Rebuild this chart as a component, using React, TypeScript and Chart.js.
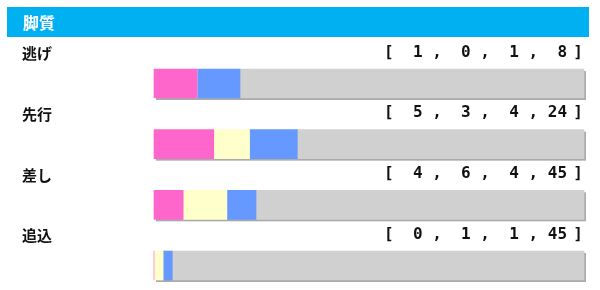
import React, { useEffect, useRef } from "react";
import { Chart, registerables } from "chart.js";
Chart.register(...registerables);

const title = "脚質";
const categories = ["逃げ", "先行", "差し", "追込"];
const firstPlace = [1, 5, 4, 0];
const secondPlace = [0, 3, 6, 1];
const thirdPlace = [1, 4, 4, 1];
const unplaced = [8, 24, 45, 45];
const seriesNames = ["1着", "2着", "3着", "着外"];
const seriesColors = ["#ff66cc", "#ffffcc", "#6699ff", "#d0d0d0"];

const series = [firstPlace, secondPlace, thirdPlace, unplaced];
const totals = categories.map((_, i) => series.reduce((s, arr) => s + arr[i], 0));

const decor = {
  id: "decor",
  beforeDraw(chart: any) {
    const ctx = chart.ctx;
    ctx.save();
    ctx.fillStyle = "#00b0f0";
    ctx.fillRect(7, 7, 582, 30);
    ctx.fillStyle = "#ffffff";
    ctx.font = "bold 16px 'Noto Sans CJK JP'";
    ctx.textBaseline = "middle";
    ctx.textAlign = "left";
    ctx.fillText(title, 23, 22.5);
    ctx.restore();
  },
  beforeDatasetsDraw(chart: any) {
    const ctx = chart.ctx;
    const first = chart.getDatasetMeta(0).data;
    const last = chart.getDatasetMeta(series.length - 1).data;
    ctx.save();
    ctx.fillStyle = "#aaaaaa";
    categories.forEach((_, i) => {
      const a = first[i];
      const b = last[i];
      const left = Math.min(a.base, a.x);
      const right = b.x;
      ctx.fillRect(left + 2, a.y - a.height / 2 + 2, right - left, a.height);
    });
    ctx.restore();
  },
  afterDatasetsDraw(chart: any) {
    const ctx = chart.ctx;
    const y = chart.scales.y;
    ctx.save();
    ctx.fillStyle = "#111111";
    ctx.textBaseline = "middle";
    categories.forEach((cat, i) => {
      const cy = y.getPixelForValue(i) - 31;
      ctx.font = "bold 15px 'Noto Sans CJK JP'";
      ctx.textAlign = "left";
      ctx.fillText(cat, 22, cy + 1);
      ctx.font = "bold 16px 'DejaVu Sans Mono'";
      const txt = "[" + series.map((arr) => " " + String(arr[i]).padStart(2, " ")).join(" ,");
      ctx.fillText(txt, 384, cy);
      ctx.textAlign = "center";
      ctx.fillText("]", 578, cy);
    });
    ctx.restore();
  },
};

export default function App() {
  const ref = useRef<HTMLCanvasElement | null>(null);
  useEffect(() => {
    if (!ref.current) return;
    const chart = new Chart(ref.current, {
      type: "bar",
      data: {
        labels: categories,
        datasets: series.map((arr, k) => ({
          label: seriesNames[k],
          data: arr.map((v, i) => (v / totals[i]) * 100),
          backgroundColor: seriesColors[k],
          borderWidth: 0,
          barThickness: 29,
          clip: false as any,
        })),
      },
      options: {
        indexAxis: "y",
        animation: false,
        responsive: false,
        devicePixelRatio: 1,
        layout: { padding: { left: 154, right: 16, top: 83.5, bottom: 24.5 } },
        plugins: { legend: { display: false }, tooltip: { enabled: false } },
        scales: {
          x: { stacked: true, min: 0, max: 100, display: false },
          y: { stacked: true, offset: false, display: false },
        },
      },
      plugins: [decor],
    });
    return () => chart.destroy();
  }, []);
  return (
    <canvas
      ref={ref}
      width={600}
      height={290}
      style={{ position: "absolute", left: 0, top: 0, display: "block", background: "#ffffff" }}
    />
  );
}
